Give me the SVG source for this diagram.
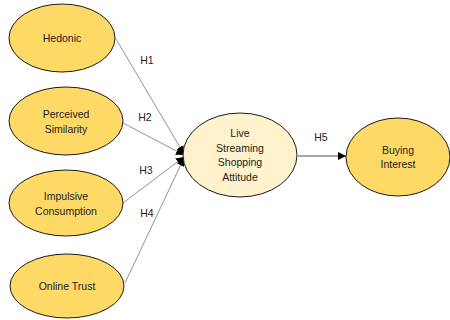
<svg xmlns="http://www.w3.org/2000/svg" width="450" height="320" viewBox="0 0 450 320">
<style>
.n{fill:#FFD966;stroke:#1a1a1a;stroke-width:1}
.c{fill:#FFF2CC;stroke:#1a1a1a;stroke-width:1}
text{font-family:"Liberation Sans",Arial,sans-serif;font-size:10.5px;fill:#222;text-anchor:middle}
.e{stroke:#777;stroke-width:0.8;fill:none;marker-end:url(#a)}
.e5{stroke:#222;stroke-width:0.8;fill:none;marker-end:url(#a)}
</style>
<defs>
<marker id="a" viewBox="0 0 10 10" refX="10" refY="5" markerWidth="8" markerHeight="8" markerUnits="userSpaceOnUse" orient="auto">
<path d="M0,0L10,5L0,10z" fill="#000"/>
</marker>
</defs>
<rect width="450" height="320" fill="#fff"/>
<g id="connectors">
<line class="e" x1="116" y1="39" x2="184" y2="154"/>
<line class="e" x1="123" y1="123" x2="184" y2="155"/>
<line class="e" x1="123" y1="203" x2="184" y2="157"/>
<line class="e" x1="125" y1="283" x2="184" y2="158"/>
<line class="e5" x1="298" y1="156" x2="346" y2="156"/>
<text x="147" y="64">H1</text>
<text x="145" y="121">H2</text>
<text x="146" y="174">H3</text>
<text x="147" y="217">H4</text>
<text x="321" y="141">H5</text>
</g>
<g id="hedonic"><ellipse class="n" cx="62" cy="38" rx="53" ry="34"/><text x="62" y="42">Hedonic</text></g>
<g id="similarity"><ellipse class="n" cx="66" cy="121" rx="57" ry="34"/><text x="66" y="118">Perceived</text><text x="66" y="133">Similarity</text></g>
<g id="impulsive"><ellipse class="n" cx="66" cy="203" rx="57" ry="33"/><text x="66" y="200">Impulsive</text><text x="66" y="215">Consumption</text></g>
<g id="trust"><ellipse class="n" cx="67" cy="286" rx="57" ry="32"/><text x="67" y="290">Online Trust</text></g>
<g id="attitude"><ellipse class="c" cx="240" cy="155" rx="57" ry="42"/><text x="240" y="137">Live</text><text x="240" y="152">Streaming</text><text x="240" y="166">Shopping</text><text x="240" y="181">Attitude</text></g>
<g id="interest"><ellipse class="n" cx="398" cy="157" rx="52" ry="39"/><text x="398" y="154">Buying</text><text x="398" y="168">Interest</text></g>
</svg>
